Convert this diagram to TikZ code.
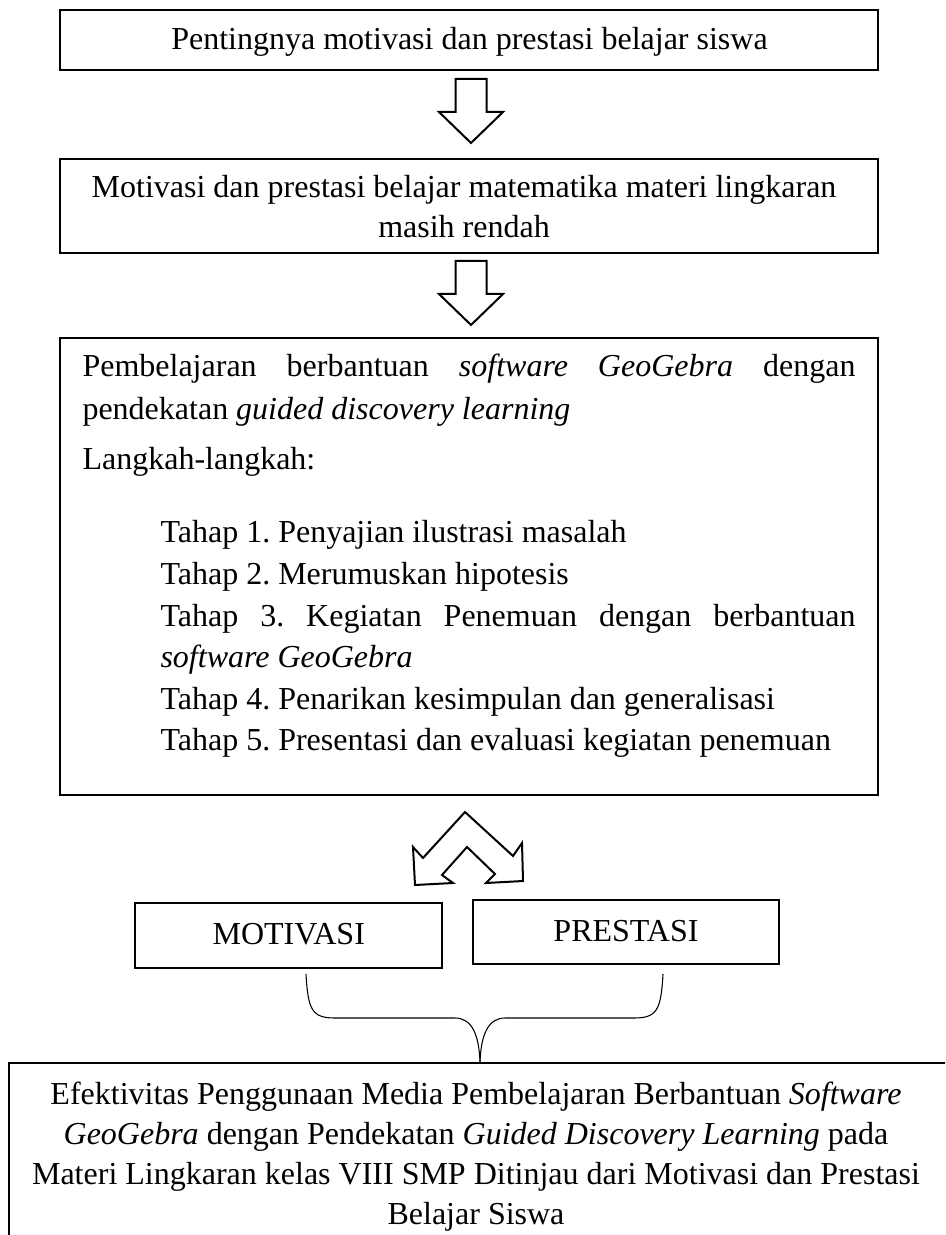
\documentclass[tikz,border=0pt]{standalone}
\usepackage{fontspec}
\setmainfont{Liberation Serif}
\frenchspacing
\begin{document}
\frenchspacing
\begin{tikzpicture}[x=0.375pt,y=-0.375pt,
  box/.style={draw,line width=0.75pt,inner sep=0pt},
  txt/.style={inner sep=0pt,font=\fontsize{12}{14}\selectfont},
  outline/.style={draw,line width=0.75pt,fill=white,line join=miter},
  brace/.style={draw,line width=0.4pt},
  downarr/.pic={\path[outline] (-15.5,0) -- (15.5,0) -- (15.5,33) -- (32,33) -- (0,64) -- (-32,33) -- (-15.5,33) -- cycle;}
]
\useasboundingbox (0,0) rectangle (945,1235);
\clip (0,0) rectangle (945,1235);

% boxes
\node[box,minimum width=306.75pt,minimum height=22.5pt] (b1) at (469,40) {};
\node[box,minimum width=306.75pt,minimum height=35.25pt] (b2) at (469,206) {};
\node[box,minimum width=306.75pt,minimum height=171.375pt] (b3) at (469,566.5) {};
\node[box,minimum width=114.94pt,minimum height=24.375pt] (mot) at (288.75,935.5) {};
\node[box,minimum width=114.75pt,minimum height=24pt] (pre) at (626,932) {};
\node[box,minimum width=354.75pt,minimum height=73.875pt] (res) at (482,1161.5) {};

% texts
\node[txt,anchor=base] (t1) at (469.5,50) {Pentingnya motivasi dan prestasi belajar siswa};
\node[txt,anchor=base] (t2a) at (464,198) {Motivasi dan prestasi belajar matematika materi lingkaran};
\node[txt,anchor=base] (t2b) at (464,238) {masih rendah};

\node[txt,anchor=base west] (t3a) at (82,377) {\hbox to 289.875pt{Pembelajaran\hfil berbantuan\hfil \textit{software}\hfil \textit{GeoGebra}\hfil dengan}};
\node[txt,anchor=base west] (t3b) at (82,420) {pendekatan \textit{guided discovery learning}};
\node[txt,anchor=base west] (t3c) at (82,470) {Langkah-langkah:};
\node[txt,anchor=base west] (s1) at (160,543) {Tahap 1. Penyajian ilustrasi masalah};
\node[txt,anchor=base west] (s2) at (160,584) {Tahap 2. Merumuskan hipotesis};
\node[txt,anchor=base west] (s3) at (160,626) {\hbox to 260.625pt{Tahap\hfil 3.\hfil Kegiatan\hfil Penemuan\hfil dengan\hfil berbantuan}};
\node[txt,anchor=base west] (s3b) at (160,667) {\textit{software GeoGebra}};
\node[txt,anchor=base west] (s4) at (160,709) {Tahap 4. Penarikan kesimpulan dan generalisasi};
\node[txt,anchor=base west] (s5) at (160,750) {Tahap 5. Presentasi dan evaluasi kegiatan penemuan};

\node[txt,anchor=base] (tm) at (288.75,944) {MOTIVASI};
\node[txt,anchor=base] (tp) at (626,941) {PRESTASI};

\node[txt,anchor=base] (r1) at (476,1104) {Efektivitas Penggunaan Media Pembelajaran Berbantuan \textit{Software}};
\node[txt,anchor=base] (r2) at (476,1144) {\textit{GeoGebra} dengan Pendekatan \textit{Guided Discovery Learning} pada};
\node[txt,anchor=base] (r3) at (476,1184) {Materi Lingkaran kelas VIII SMP Ditinjau dari Motivasi dan Prestasi};
\node[txt,anchor=base] (r4) at (476,1224) {Belajar Siswa};

% block arrows
\pic at (471,79) {downarr};
\pic at (471,261) {downarr};

% double bent arrow
\path[outline] (465,812) -- (423,858) -- (413,847) -- (415,885) -- (453,883) -- (442,875)
  -- (467,847) -- (495,874) -- (486,883) -- (523,881) -- (522,843) -- (513,856) -- cycle;

% brace
\coordinate (bl) at (306,974);
\coordinate (br) at (663,974);
\coordinate (bt) at (480,1062);
\path[brace] (bl) .. controls (308,1010) and (312,1018) .. (335,1018) -- (455,1018)
  .. controls (472,1018) and (479,1035) .. (bt);
\path[brace] (br) .. controls (661,1010) and (657,1018) .. (634,1018) -- (505,1018)
  .. controls (488,1018) and (481,1035) .. (bt);
\end{tikzpicture}
\end{document}
